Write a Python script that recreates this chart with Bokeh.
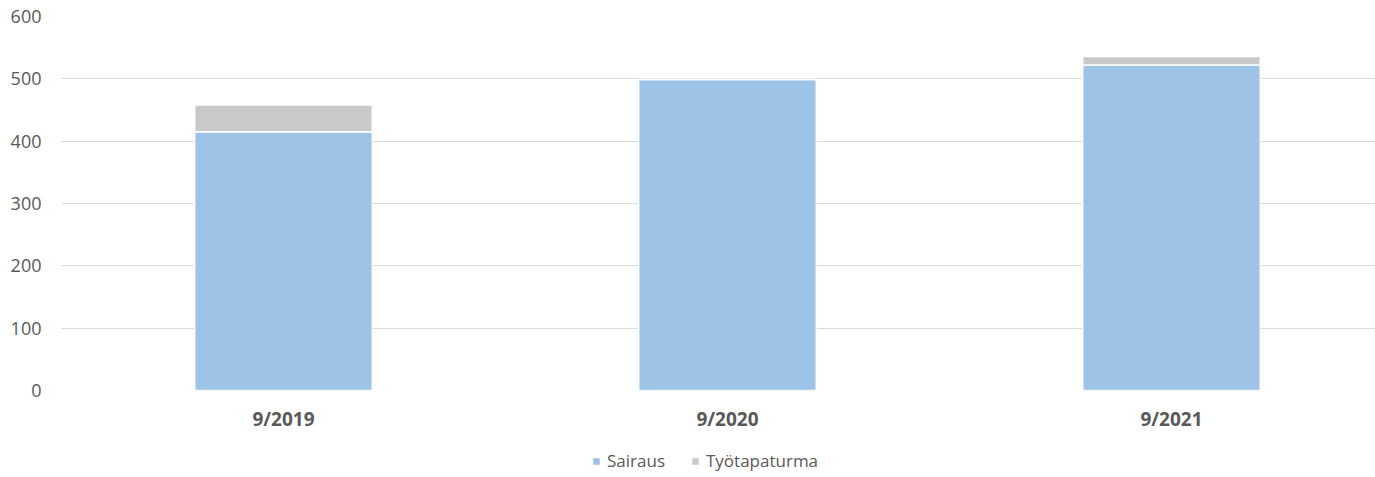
from bokeh.plotting import figure
from bokeh.models import FixedTicker, Legend, LegendItem, Range1d, ColumnDataSource
from bokeh.layouts import column
from bokeh.embed import file_html
from bokeh.resources import INLINE

categories = ["9/2019", "9/2020", "9/2021"]
sairaus = [415, 499, 522]
tyotapaturma = [43, 0, 14]
series_names = ["Sairaus", "Työtapaturma"]
colors = ["#9dc3e6", "#c9c9c9"]
y_ticks = [0, 100, 200, 300, 400, 500, 600]

FONT = "Open Sans"
TXT = "#595959"

xs = [i + 0.5 for i in range(len(categories))]
src = ColumnDataSource(dict(x=xs, s0=sairaus, s1=tyotapaturma))

p = figure(frame_width=1314, frame_height=374,
           output_backend="svg", toolbar_location=None,
           x_range=Range1d(0, 1314 / 444), y_range=Range1d(0, 600),
           min_border_left=61, min_border_right=0, min_border_top=16, min_border_bottom=0)
p.outline_line_color = None
p.background_fill_color = "white"

p.vbar_stack(["s0", "s1"], x="x", width=0.4, source=src, color=colors,
             line_color="white", line_width=1.5)

p.xgrid.grid_line_color = None
p.ygrid.grid_line_color = "#d9d9d9"
p.ygrid.grid_line_width = 1
p.ygrid.ticker = FixedTicker(ticks=y_ticks)

p.yaxis.ticker = FixedTicker(ticks=y_ticks)
p.yaxis.axis_line_color = None
p.yaxis.major_tick_line_color = None
p.yaxis.minor_tick_line_color = None
p.yaxis.major_tick_out = 0
p.yaxis.minor_tick_out = 0
p.yaxis.major_label_text_font = FONT
p.yaxis.major_label_text_font_size = "18px"
p.yaxis.major_label_text_color = TXT
p.yaxis.major_label_standoff = 20

p.xaxis.ticker = FixedTicker(ticks=xs)
p.xaxis.major_label_overrides = {x: c for x, c in zip(xs, categories)}
p.xaxis.axis_line_color = None
p.xaxis.major_tick_line_color = None
p.xaxis.minor_tick_line_color = None
p.xaxis.major_tick_out = 0
p.xaxis.minor_tick_out = 0
p.xaxis.major_label_text_font = FONT
p.xaxis.major_label_text_font_size = "19px"
p.xaxis.major_label_text_font_style = "bold"
p.xaxis.major_label_text_color = TXT
p.xaxis.major_label_standoff = 15

# legend strip below the chart (its bars lie outside its visible range)
p2 = figure(width=1375, height=46, output_backend="svg", toolbar_location=None,
            x_axis_type=None, y_axis_type=None,
            x_range=Range1d(0, 1314 / 444), y_range=Range1d(10000, 20000),
            min_border_left=0, min_border_right=0, min_border_top=0, min_border_bottom=0)
p2.outline_line_color = None
p2.xgrid.visible = False
p2.ygrid.visible = False
rs = p2.vbar_stack(["s0", "s1"], x="x", width=0.4, source=src, color=colors,
                   line_color="white", line_width=1.5)

legend = Legend(items=[LegendItem(label=n, renderers=[r]) for n, r in zip(series_names, rs)],
                orientation="horizontal", location=(530, 8),
                label_text_font=FONT, label_text_font_size="17px", label_text_color=TXT,
                glyph_width=10, glyph_height=10, spacing=25, label_standoff=6,
                label_height=20, border_line_color=None, background_fill_alpha=0,
                margin=0, padding=0)
p2.add_layout(legend)

layout = column(p, p2, spacing=0)
open("out.html", "w").write(file_html(layout, INLINE))
